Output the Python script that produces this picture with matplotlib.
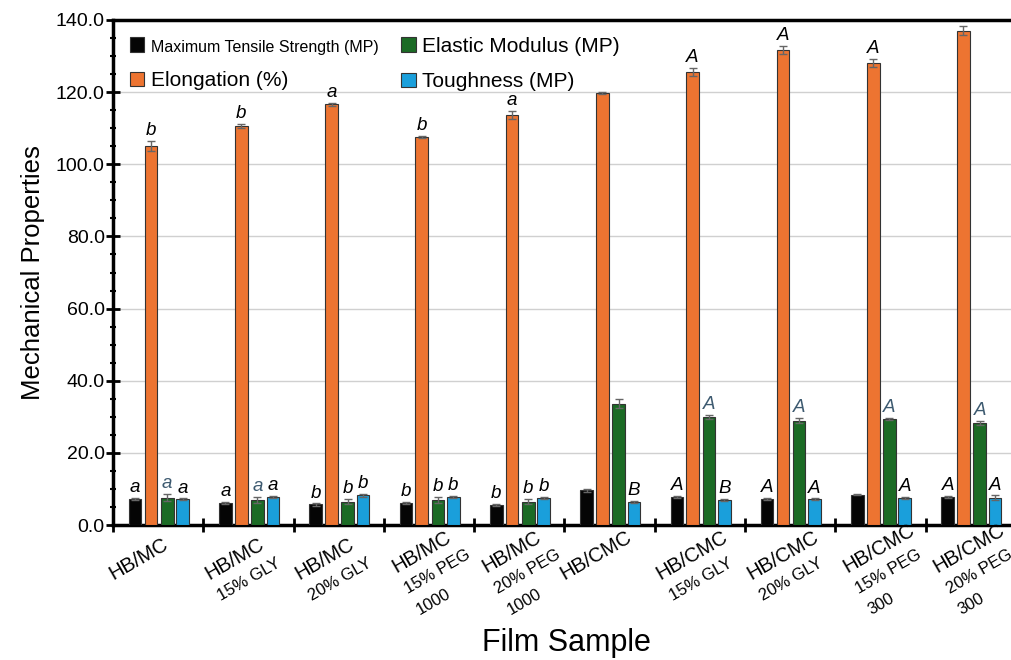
import numpy as np
import matplotlib
matplotlib.use('Agg')
from matplotlib import pyplot as plt
from matplotlib.ticker import MultipleLocator

plt.rcParams['font.family'] = ['Liberation Sans', 'DejaVu Sans']

samples = ['HB/MC', 'HB/MC\n15% GLY', 'HB/MC\n20% GLY', 'HB/MC\n15% PEG\n1000',
           'HB/MC\n20% PEG\n1000', 'HB/CMC', 'HB/CMC\n15% GLY', 'HB/CMC\n20% GLY',
           'HB/CMC\n15% PEG\n300', 'HB/CMC\n20% PEG\n300']

tensile = [7.2, 6.2, 5.7, 6.1, 5.5, 9.6, 7.8, 7.2, 8.4, 7.8]
tensile_err = [0.3, 0.3, 0.3, 0.3, 0.3, 0.4, 0.3, 0.3, 0.2, 0.3]
elong = [105.1, 110.6, 116.6, 107.6, 113.7, 119.7, 125.6, 131.7, 128.1, 137.0]
elong_err = [1.3, 0.6, 0.5, 0.3, 1.1, 0.3, 1.2, 1.1, 1.1, 1.2]
modulus = [7.6, 6.9, 6.5, 7.0, 6.5, 33.6, 30.0, 28.9, 29.4, 28.2]
modulus_err = [1.0, 0.8, 0.8, 0.8, 0.7, 1.2, 0.5, 0.7, 0.3, 0.6]
tough = [7.1, 7.7, 8.2, 7.7, 7.6, 6.4, 7.0, 7.1, 7.6, 7.6]
tough_err = [0.3, 0.3, 0.4, 0.3, 0.3, 0.3, 0.3, 0.3, 0.3, 0.6]

# significance letters, '' where none shown
tensile_lbl = ['a', 'a', 'b', 'b', 'b', '', 'A', 'A', '', 'A']
elong_lbl = ['b', 'b', 'a', 'b', 'a', '', 'A', 'A', 'A', '']
modulus_lbl = ['a', 'a', 'b', 'b', 'b', '', 'A', 'A', 'A', 'A']
tough_lbl = ['a', 'a', 'b', 'b', 'b', 'B', 'B', 'A', 'A', 'A']

series = [
    ('Maximum Tensile Strength (MP)', tensile, tensile_err, tensile_lbl, '#050505', -0.255, 'black'),
    ('Elongation (%)', elong, elong_err, elong_lbl, '#ED7431', -0.08, 'black'),
    ('Elastic Modulus (MP)', modulus, modulus_err, modulus_lbl, '#1B6B25', 0.10, '#3d5a70'),
    ('Toughness (MP)', tough, tough_err, tough_lbl, '#1A9FDB', 0.27, 'black'),
]

x = np.arange(len(samples))
w = 0.14

fig = plt.figure(figsize=(10.11, 6.6), dpi=100)
ax = fig.add_axes([0.1118, 0.2045, 0.893, 0.7652])

for name, vals, errs, lbls, col, off, lcol in series:
    ax.bar(x + off, vals, w, color=col, edgecolor='#333333', linewidth=0.8,
           label=name, zorder=3)
    ax.errorbar(x + off, vals, yerr=errs, fmt='none', ecolor='#666666',
                elinewidth=1.0, capsize=3, capthick=1.0, zorder=4)
    for xi, v, e, t in zip(x, vals, errs, lbls):
        if t:
            c = lcol if t.lower() == 'a' else 'black'
            ax.text(xi + off, v + e + 0.5, t, ha='center', va='bottom',
                    fontsize=13.5, style='italic', color=c, zorder=5)

ax.set_xlim(-0.5, 9.5)
ax.set_ylim(0, 140)
ax.yaxis.set_minor_locator(MultipleLocator(5))
ax.set_yticks(np.arange(0, 141, 20))
ax.set_yticklabels(['%.1f' % v for v in np.arange(0, 141, 20)], fontsize=14)
ax.grid(axis='y', color='#d0d0d0', linewidth=1.0, zorder=0)
ax.set_axisbelow(True)

# group separators on x axis
ax.set_xticks(np.arange(-0.5, 10, 1.0))
ax.set_xticklabels([])
ax.tick_params(axis='x', which='major', direction='inout', length=10, width=2)
ax.tick_params(axis='y', which='major', direction='inout', length=10, width=2, pad=1)
ax.tick_params(axis='y', which='minor', direction='inout', length=5, width=1.5)

# sample names: rotated, first line larger, next lines smaller and left aligned
for xi, name in zip(x, samples):
    lines = name.split('\n')
    n = len(lines)
    x0 = -45 + 6 * (n - 1)
    y0 = -55 if n < 3 else -48
    for k, line in enumerate(lines):
        ax.annotate(line, xy=(xi, 0), xycoords=('data', 'axes fraction'),
                    xytext=(x0 + 12 * k, y0 - 21 * k), textcoords='offset pixels',
                    rotation=30, rotation_mode='anchor', ha='left', va='baseline',
                    fontsize=14.5 if k == 0 else 12, annotation_clip=False)

for s in ['left', 'bottom', 'top']:
    ax.spines[s].set_linewidth(2.5)
ax.spines['right'].set_visible(False)

ax.set_ylabel('Mechanical Properties', fontsize=18.5, labelpad=8)
ax.set_xlabel('Film Sample', fontsize=22)
ax.xaxis.set_label_coords(0.502, -0.203)

leg = ax.legend(ncol=2, loc='upper left', bbox_to_anchor=(0.0, 1.0),
                frameon=False, fontsize=15, handlelength=0.7, handleheight=0.7,
                handletextpad=0.3, columnspacing=1.1, labelspacing=0.8,
                borderaxespad=0.4)
leg.get_texts()[0].set_fontsize(11.5)

plt.savefig('out.png', dpi=100)
